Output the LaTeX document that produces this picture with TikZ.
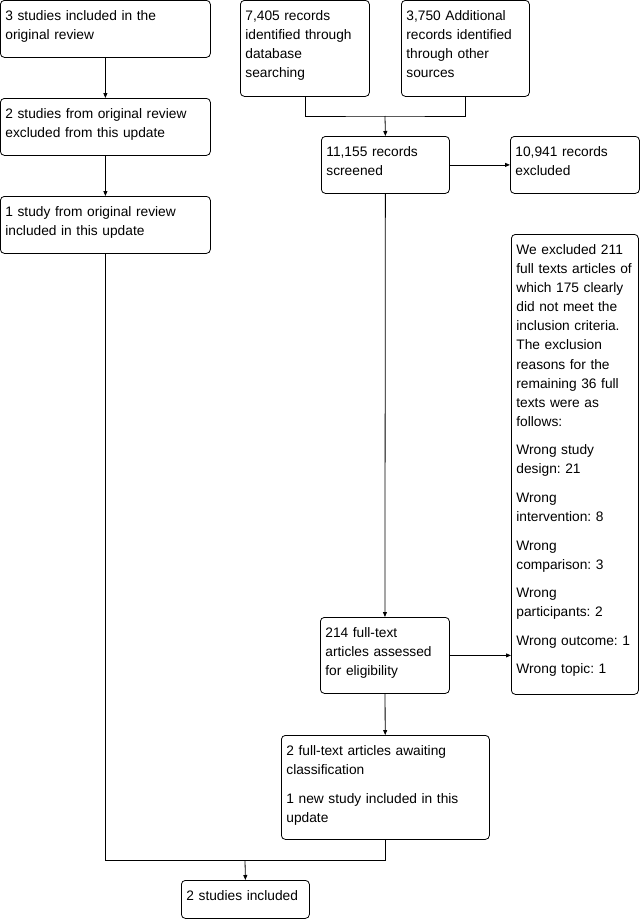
\documentclass[tikz,border=0pt]{standalone}
\usepackage{fontspec}
\setmainfont{Liberation Sans}
\usepackage{tikz}
\usetikzlibrary{calc,arrows.meta,positioning}
\frenchspacing

\begin{document}
\begin{tikzpicture}[x=1pt, y=-1pt, >={Triangle[length=5pt,width=4pt]},
    box/.style 2 args={draw, line width=0.8pt, rounded corners=4pt, anchor=north west,
        inner xsep=5pt, inner ysep=0pt, align=left, font=\fontsize{13.75}{19.1}\selectfont,
        minimum width=#1, text width=#1-10, text height=20pt, text depth=#2-20},
    link/.style={line width=0.8pt}]
    \def\gap{9.4pt}   % extra space between paragraphs

    \useasboundingbox (0,0) rectangle (642,919);

    % Left column: studies of the original review
    \node[box={210}{57}] (orig) at (0,0)
        {3 studies included in the\\original review};
    \node[box={210}{57}] (origex) at (0,98)
        {2 studies from original review\\excluded from this update};
    \node[box={210}{57}] (origin) at (0,196)
        {1 study from original review\\included in this update};

    % Sources of records
    \node[box={129}{96}] (dbase) at (240,0)
        {7,405 records\\identified through\\database\\searching};
    \node[box={128}{96}] (other) at (401,0)
        {3,750 Additional\\records identified\\through other\\sources};

    % Screening
    \node[box={128}{57}] (screen) at (321,136)
        {11,155 records\\screened};
    \node[box={129}{57}] (screenex) at (510,136)
        {10,941 records\\excluded};

    % Eligibility
    \node[box={127}{460}] (fullex) at (511,234)
        {We excluded 211\\full texts articles of\\which 175 clearly\\did not meet the\\inclusion criteria.\\The exclusion\\reasons for the\\remaining 36 full\\texts were as\\follows:\\[\gap]
         Wrong study\\design: 21\\[\gap]
         Wrong\\intervention: 8\\[\gap]
         Wrong\\comparison: 3\\[\gap]
         Wrong\\participants: 2\\[\gap]
         Wrong outcome: 1\\[\gap]
         Wrong topic: 1};
    \node[box={129}{76}] (full) at (320,617)
        {214 full-text\\articles assessed\\for eligibility};

    % Included
    \node[box={208}{104}] (newstudy) at (281,735)
        {2 full-text articles awaiting\\classification\\[\gap]
         1 new study included in this\\update};
    \node[box={128}{38}] (incl) at (181,880)
        {2 studies included};

    % Connectors
    \coordinate (join) at (385,116);
    \coordinate (merge) at (245,860);

    \draw[link, ->] (orig) -- (origex);
    \draw[link, ->] (origex) -- (origin);
    \draw[link] (dbase.south) |- (join) -| (other.south);
    \draw[link, ->] (join) -- (screen.north);
    \draw[link, ->] (screen) -- (screenex);
    \draw[link, ->] (screen) -- (full);
    \draw[link, ->] (full.east) -- (full.east -| fullex.west);
    \draw[link, ->] (full) -- (newstudy);
    \draw[link] (origin.south) |- (merge) -| (newstudy.south);
    \draw[link, ->] (merge) -- (incl.north);
\end{tikzpicture}
\end{document}
